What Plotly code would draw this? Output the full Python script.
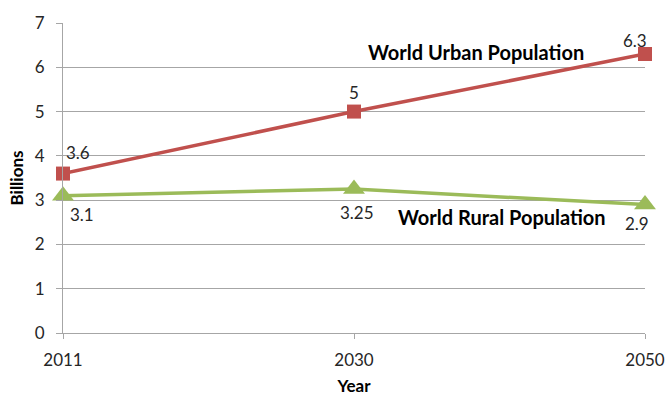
import plotly.graph_objects as go

years = ["2011", "2030", "2050"]
urban = [3.6, 5, 6.3]
rural = [3.1, 3.25, 2.9]
urban_name = "World Urban Population"
rural_name = "World Rural Population"
y_ticks = [0, 1, 2, 3, 4, 5, 6, 7]

RED = "#C0504D"
GREEN = "#9BBB59"
GRID = "#A6A6A6"
FONT = "Lato"
TXT = "#262626"

fig = go.Figure()
fig.add_trace(go.Scatter(
    x=years, y=rural, mode="lines+markers", name=rural_name,
    line=dict(color=GREEN, width=3.5),
    marker=dict(symbol="triangle-up", size=19, color=GREEN),
    cliponaxis=False,
))
fig.add_trace(go.Scatter(
    x=years, y=urban, mode="lines+markers", name=urban_name,
    line=dict(color=RED, width=3.5),
    marker=dict(symbol="square", size=14, color=RED),
    cliponaxis=False,
))

annots = []
u_shift = [(15, 21), (0, 19), (-10, 14)]
r_shift = [(19, -19), (3, -23), (-8, -19)]
for i, (yr, v) in enumerate(zip(years, urban)):
    annots.append(dict(x=i, y=v, xref="x", yref="y", text=str(v), showarrow=False,
                       xshift=u_shift[i][0], yshift=u_shift[i][1],
                       font=dict(family=FONT, size=17, color=TXT)))
for i, (yr, v) in enumerate(zip(years, rural)):
    annots.append(dict(x=i, y=v, xref="x", yref="y", text=str(v), showarrow=False,
                       xshift=r_shift[i][0], yshift=r_shift[i][1],
                       font=dict(family=FONT, size=17, color=TXT)))
annots.append(dict(x=1.42, y=6.34, xref="x", yref="y", text="<b>" + urban_name + "</b>",
                   showarrow=False, font=dict(family=FONT, size=20, color="#000")))
annots.append(dict(x=1.51, y=2.62, xref="x", yref="y", text="<b>" + rural_name + "</b>",
                   showarrow=False, font=dict(family=FONT, size=20, color="#000")))

fig.update_layout(
    width=666, height=396,
    margin=dict(l=63, r=21, t=23, b=63),
    paper_bgcolor="white", plot_bgcolor="white",
    showlegend=False,
    font=dict(family=FONT, size=17, color=TXT),
    annotations=annots,
    xaxis=dict(
        type="category", categoryorder="array", categoryarray=years,
        range=[0, 2], showgrid=False, zeroline=False, automargin=False,
        showline=True, linecolor=GRID, linewidth=1,
        ticks="outside", ticklen=5, tickcolor=GRID, ticklabelstandoff=7,
        tickfont=dict(family=FONT, size=17, color=TXT),
        title=dict(text="<b>Year</b>", standoff=14,
                   font=dict(family=FONT, size=17, color="#000")),
    ),
    yaxis=dict(
        range=[0, 7], tickvals=y_ticks, showgrid=True, gridcolor=GRID, gridwidth=1,
        zeroline=False, showline=True, linecolor=GRID, linewidth=1, automargin=False,
        ticks="outside", ticklen=6, tickcolor=GRID, ticklabelstandoff=8,
        tickfont=dict(family=FONT, size=17, color=TXT),
        title=dict(text="<b>Billions</b>", standoff=6,
                   font=dict(family=FONT, size=17, color="#000")),
    ),
)

fig.write_html("out.html")
